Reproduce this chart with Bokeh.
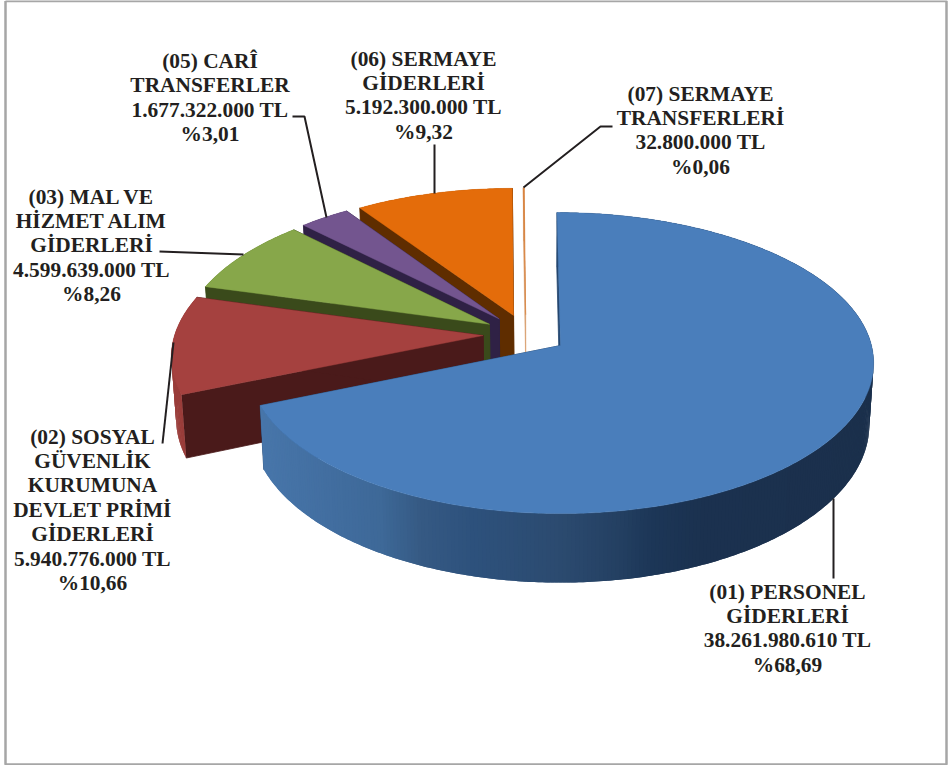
import numpy as np
from bokeh.plotting import figure
from bokeh.models import ColumnDataSource
from bokeh.core.properties import value
from bokeh.embed import file_html
from bokeh.resources import INLINE

# ---- data ----
codes = ["01", "02", "03", "05", "06", "07"]
amount_labels = ["38.261.980.610 TL", "5.940.776.000 TL", "4.599.639.000 TL",
                 "1.677.322.000 TL", "5.192.300.000 TL", "32.800.000 TL"]
amounts = [38261980610, 5940776000, 4599639000, 1677322000, 5192300000, 32800000]
percent_labels = ["%68,69", "%10,66", "%8,26", "%3,01", "%9,32", "%0,06"]
name_lines = [
    ["(01) PERSONEL", "GİDERLERİ"],
    ["(02) SOSYAL", "GÜVENLİK", "KURUMUNA", "DEVLET PRİMİ", "GİDERLERİ"],
    ["(03) MAL VE", "HİZMET ALIM", "GİDERLERİ"],
    ["(05) CARÎ", "TRANSFERLER"],
    ["(06) SERMAYE", "GİDERLERİ"],
    ["(07) SERMAYE", "TRANSFERLERİ"],
]

# ---- style and layout ----
top_colors = ["#4a7ebb", "#a5413f", "#87a74a", "#73558f", "#e46c0a", "#d9803a"]
face_colors = ["#24466f", "#4a1a1a", "#3a4a1b", "#2f2145", "#5f2d00", "#d9a070"]
rim_colors = [None, "#9a3d3a", "#6f8a3c", "#5c4373", "#b85808", "#d9803a"]
blue_rim_x = [262, 330, 380, 420, 470, 560, 620, 650, 700, 875]
blue_rim_rgb = [(72, 118, 170), (66, 110, 160), (62, 105, 152), (54, 90, 132), (46, 82, 125),
                (44, 75, 112), (36, 64, 98), (29, 55, 88), (27, 50, 80), (27, 48, 76)]
label_x = [787, 92, 91, 209.5, 423, 700]
label_y0 = [591, 436, 196, 60.5, 58, 93]
LINE_GAP = 24.4
FONT = "Liberation Serif"
TEXT = "#231f20"

# projection of the pie's plane onto the page
CX, CY = 560.0, 345.0       # page position of the apex of the largest slice
A, B, K = 311.0, 148.5, 0.1165
LEAN = 3.5                  # the far rim leans slightly left
EXPLODE = 0.137
DEPTH = 61.0
VANISH_X, SHRINK = 540.0, 0.013


def project(px, py):
    den = 1 + K * py
    return CX + A * px / den - LEAN * np.maximum(py, 0) ** 2, CY - B * py / den, den


def drop(x, y, den):
    return x + (VANISH_X - x) * SHRINK, y + DEPTH / den


total = sum(amounts)
fractions = np.array(amounts) / total
edges = np.concatenate([[0], np.cumsum(fractions)]) * 2 * np.pi
mids = (edges[:-1] + edges[1:]) / 2
# every slice moves out from the common hub; the hub follows from slice 01
hub_x = -EXPLODE * np.sin(mids[0])
hub_y = -EXPLODE * np.cos(mids[0])

p = figure(width=948, height=765, x_range=(0, 948), y_range=(765, 0),
           output_backend="svg", toolbar_location=None, min_border=0,
           outline_line_color=None, background_fill_color="white")
p.xaxis.visible = False
p.yaxis.visible = False
p.grid.visible = False

# frame of the picture
p.line(x=[5, 946, 946, 5, 5], y=[0.5, 0.5, 764, 764, 0.5], line_color="#a6a6a6", line_width=2.5)


def blue_rim(x):
    r = np.interp(x, blue_rim_x, [c[0] for c in blue_rim_rgb])
    g = np.interp(x, blue_rim_x, [c[1] for c in blue_rim_rgb])
    b = np.interp(x, blue_rim_x, [c[2] for c in blue_rim_rgb])
    return "#%02x%02x%02x" % (int(r), int(g), int(b))


def slice_points(i):
    ox = hub_x + EXPLODE * np.sin(mids[i])
    oy = hub_y + EXPLODE * np.cos(mids[i])
    n = max(3, int(np.degrees(edges[i + 1] - edges[i]) * 1.5))
    th = np.linspace(edges[i], edges[i + 1], n)
    ax, ay, aden = project(ox, oy)
    rx, ry, rden = project(ox + np.sin(th), oy + np.cos(th))
    return th, (ax, ay, aden), (rx, ry, rden)


def draw_rim(i, th, rx, ry, brx, bry, front):
    idx = [j for j in range(len(rx) - 1)
           if (np.cos((th[j] + th[j + 1]) / 2) < 0) == front]
    if not idx:
        return
    last = len(rx) - 1
    # each strip reaches one step over the next, so no seam shows between them
    xs = [[rx[j], rx[j + 1], rx[min(j + 2, last)], brx[min(j + 2, last)], brx[j + 1], brx[j]] for j in idx]
    ys = [[ry[j], ry[j + 1], ry[min(j + 2, last)], bry[min(j + 2, last)], bry[j + 1], bry[j]] for j in idx]
    if i == 0:
        cols = [blue_rim((rx[j] + rx[j + 1]) / 2) for j in idx]
    else:
        cols = [rim_colors[i]] * len(idx)
    src = ColumnDataSource(dict(xs=xs, ys=ys, c=cols))
    p.patches("xs", "ys", source=src, fill_color="c", line_color=None)


# painted from the back of the pie towards the viewer
for i in [5, 4, 3, 2, 1, 0]:
    th, (ax, ay, aden), (rx, ry, rden) = slice_points(i)
    bax, bay = drop(ax, ay, aden)
    brx, bry = drop(rx, ry, rden)
    draw_rim(i, th, rx, ry, brx, bry, False)
    # radial faces
    for k in (0, -1):
        p.patch(x=[ax, rx[k], brx[k], bax], y=[ay, ry[k], bry[k], bay],
                fill_color=face_colors[i], line_color=face_colors[i], line_width=0.4 if i == 5 else 0.8)
    draw_rim(i, th, rx, ry, brx, bry, True)
    # top face
    p.patch(x=[ax, *rx], y=[ay, *ry], fill_color=top_colors[i],
            line_color=top_colors[i], line_width=0.4)

# leader lines: page end of the label side, then the rim of the slice
p.line([833, 833], [498, 578], line_color=TEXT, line_width=2)
p.line([162, 173], [443, 342], line_color=TEXT, line_width=2)
p.line([159, 243], [251, 254], line_color=TEXT, line_width=2)
p.line([292, 304, 326], [116, 116, 217], line_color=TEXT, line_width=2)
p.line([434, 434], [144, 193], line_color=TEXT, line_width=2)
p.line([612, 600, 523], [126, 126, 187], line_color=TEXT, line_width=2)

# labels
tx, ty, tt = [], [], []
for i in range(len(codes)):
    lines = name_lines[i] + [amount_labels[i], percent_labels[i]]
    for j, s in enumerate(lines):
        tx.append(label_x[i])
        ty.append(label_y0[i] + j * LINE_GAP)
        tt.append(s)
p.text(x=tx, y=ty, text=tt, text_font=value(FONT), text_font_style="bold",
       text_font_size="21.4px", text_color=TEXT, text_align="center", text_baseline="middle")

open("out.html", "w").write(file_html(p, INLINE))
